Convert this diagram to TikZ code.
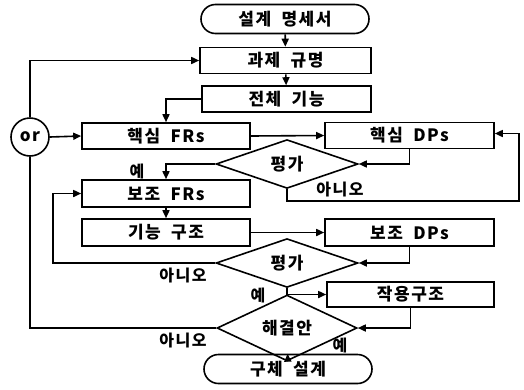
\documentclass[tikz,border=0pt]{standalone}
\usepackage{fontspec}
\setmainfont{Noto Sans CJK KR}[LetterSpace=9,WordSpace=1.9]
\usetikzlibrary{arrows.meta,shapes.geometric,shapes.misc}
\begin{document}
\begin{tikzpicture}[x=1pt,y=-1pt,line width=1.6pt,
  txt/.style={font=\fontsize{17}{19}\selectfont\bfseries},
  box/.style={draw,rectangle,minimum width=169pt,minimum height=26pt,inner sep=0pt,txt},
  pill/.style={draw,rounded rectangle,minimum width=168pt,minimum height=29pt,inner sep=0pt,txt},
  dia/.style={draw,diamond,minimum width=142pt,minimum height=38pt,inner sep=0pt,txt},
  lbl/.style={font=\fontsize{16}{18}\selectfont\bfseries,inner sep=0pt},
  arr/.style={-{Triangle[length=8pt,width=7pt]}}]
\useasboundingbox (0,0) rectangle (524,389);
\node[pill] (spec) at (285,19) {설계 명세서};
\node[box,minimum width=171pt] (b1) at (285.5,60.5) {과제 규명};
\node[box] (b2) at (286.5,99) {전체 기능};
\node[box,minimum width=168pt] (frs) at (166,136) {핵심 FRs};
\node[box] (dps) at (409.5,135.5) {핵심 DPs};
\node[dia] (d1) at (287,164) {평가};
\node[box,minimum width=168pt,minimum height=27pt] (sfr) at (166,193.5) {보조 FRs};
\node[box,minimum width=168pt,minimum height=27pt] (fs) at (166,232.5) {기능 구조};
\node[box,minimum height=27pt] (sdp) at (409.5,232.5) {보조 DPs};
\node[dia] (d2) at (287,263) {평가};
\node[box,minimum width=167pt,minimum height=25pt] (act) at (410.5,294.5) {작용구조};
\node[dia,minimum width=140pt,minimum height=40pt] (d3) at (287,328) {해결안};
\node[pill] (end) at (288,369) {구체 설계};
\node[draw,circle,minimum size=38pt,inner sep=0pt,txt] (orc) at (30,137) {or};
\coordinate (c1) at (519,201);
\coordinate (c2) at (53,263);
\draw[arr] (spec) -- (b1);
\draw[arr] (b1) -- (b2);
\draw[arr] (b2.west) -| (frs.north);
\draw[arr] (orc.east) -- (frs.west);
\draw[arr] (orc.north) |- (b1.west);
\draw (orc.south) |- (d3.west);
\draw[arr] (frs.east) -- (dps.west);
\draw[arr] (dps.south) |- (d1.east);
\draw[arr] (d1.west) -| (sfr.north);
\draw[arr] (d1.south) |- (c1) |- ([yshift=2pt]dps.east);
\draw[arr] (sfr) -- (fs);
\draw[arr] (fs.east) -- (sdp.west);
\draw[arr] (sdp.south) |- (d2.east);
\draw[arr] (d2.west) -| (c2 |- sfr.west) -- (sfr.west);
\draw[arr] (d2.south) |- (act.west);
\draw[arr] (act.south) |- (d3.east);
\draw[arr] (d3) -- (end);
\node[lbl] (l1) at (137,171) {예};
\node[lbl] (l2) at (340,190) {아니오};
\node[lbl] (l3) at (183,275) {아니오};
\node[lbl] (l4) at (258,295) {예};
\node[lbl] (l5) at (183,340) {아니오};
\node[lbl] (l6) at (340,345) {예};
\end{tikzpicture}
\end{document}
